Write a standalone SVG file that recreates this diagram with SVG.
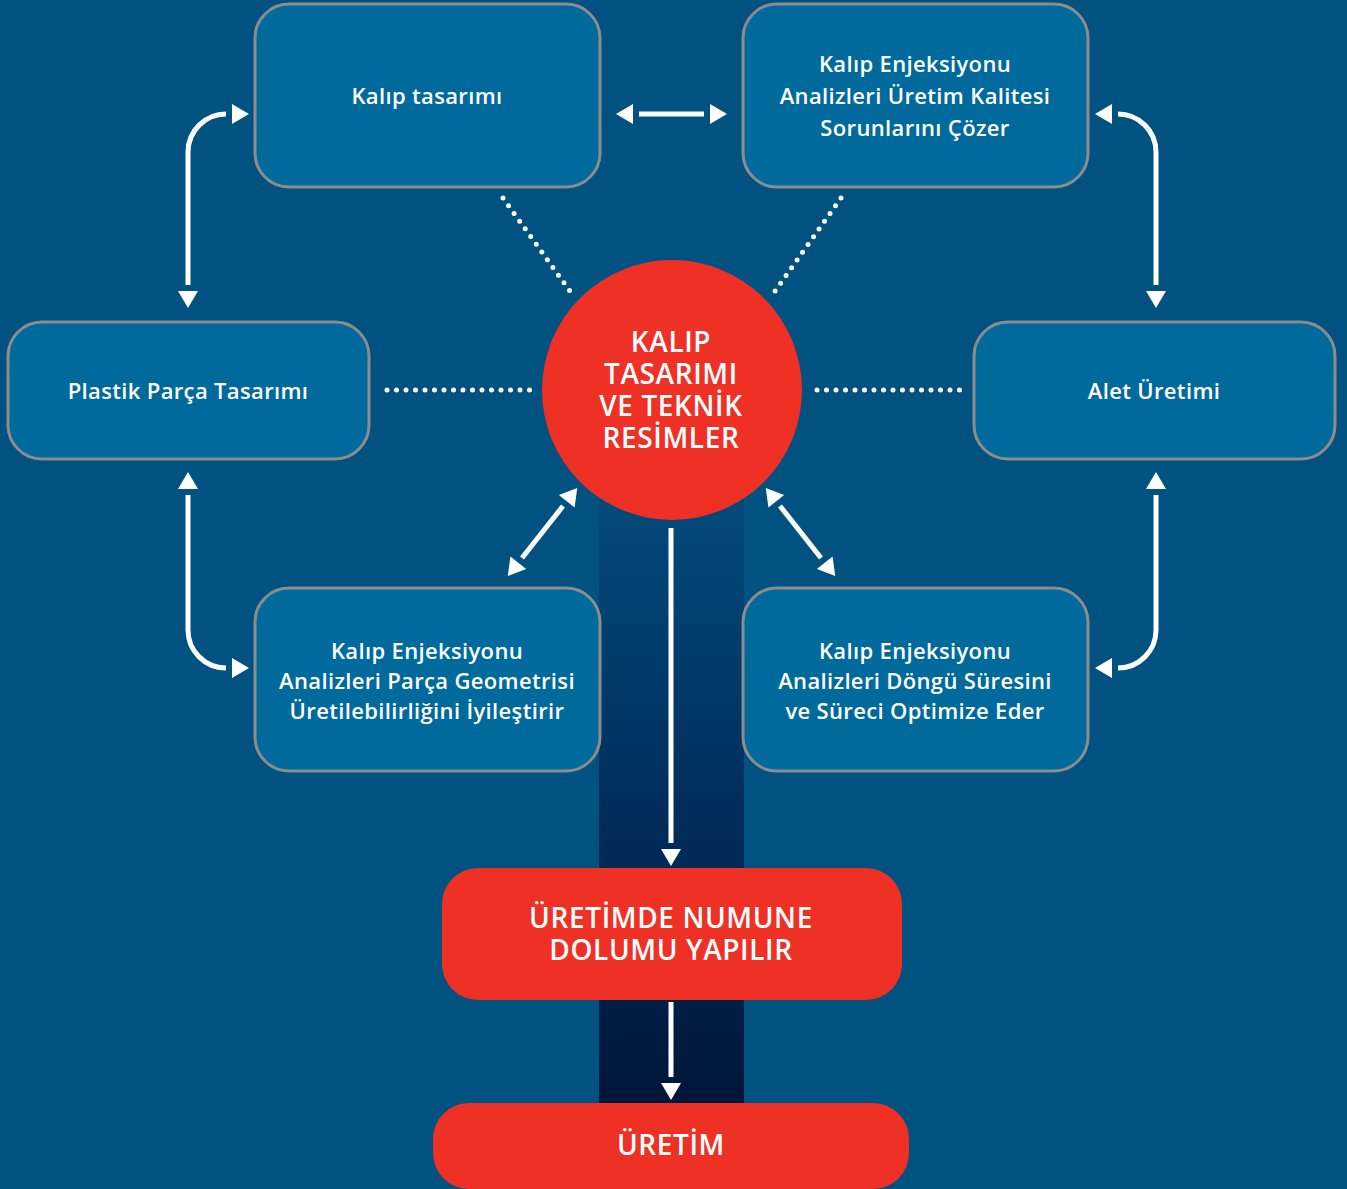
<svg xmlns="http://www.w3.org/2000/svg" width="1347" height="1189" viewBox="0 0 1347 1189">
<defs>
<linearGradient id="col" x1="0" y1="470" x2="0" y2="1103" gradientUnits="userSpaceOnUse">
<stop offset="0" stop-color="#024d7e"/>
<stop offset="0.6" stop-color="#002a57"/>
<stop offset="1" stop-color="#00163b"/>
</linearGradient>
<marker id="ah" viewBox="0 0 24 20" refX="0" refY="10" markerWidth="24" markerHeight="20" markerUnits="userSpaceOnUse" orient="auto-start-reverse">
<path d="M6,0 L23,10 L6,20 Z" fill="#ffffff"/>
</marker>
<style>
.box{fill:#006a9d;stroke:#8c8c8c;stroke-width:3}
.red{fill:#ee3124}
.t{font-family:"Open Sans","Liberation Sans",sans-serif;font-weight:600;font-size:22px;letter-spacing:0.35px;fill:#ffffff;text-anchor:middle}
.tr{font-family:"Open Sans","Liberation Sans",sans-serif;font-weight:600;font-size:28px;letter-spacing:0.6px;fill:#ffffff;text-anchor:middle}
.ln{fill:none;stroke:#ffffff;stroke-width:5}
.dot{fill:none;stroke:#ffffff;stroke-width:5;stroke-linecap:round;stroke-dasharray:0 9.5}
</style>
</defs>
<rect x="0" y="0" width="1347" height="1189" fill="#015280"/>
<rect x="599" y="460" width="145" height="645" fill="url(#col)"/>

<g id="connectors">
<line class="dot" x1="503" y1="198" x2="572" y2="294"/>
<line class="dot" x1="841" y1="198" x2="773" y2="294"/>
<line class="dot" x1="387" y1="390" x2="530" y2="390"/>
<line class="dot" x1="817" y1="390" x2="961" y2="390"/>
<line class="ln" x1="639" y1="114" x2="704" y2="114" marker-start="url(#ah)" marker-end="url(#ah)"/>
<path class="ln" d="M188,285 V152 A38,38 0 0 1 226,114" marker-start="url(#ah)" marker-end="url(#ah)"/>
<path class="ln" d="M188,495 V630 A38,38 0 0 0 226,668" marker-start="url(#ah)" marker-end="url(#ah)"/>
<path class="ln" d="M1156,285 V152 A38,38 0 0 0 1118,114" marker-start="url(#ah)" marker-end="url(#ah)"/>
<path class="ln" d="M1156,495 V630 A38,38 0 0 1 1118,668" marker-start="url(#ah)" marker-end="url(#ah)"/>
<line class="ln" x1="522" y1="558" x2="563" y2="506" marker-start="url(#ah)" marker-end="url(#ah)"/>
<line class="ln" x1="821" y1="558" x2="780" y2="506" marker-start="url(#ah)" marker-end="url(#ah)"/>
<line class="ln" x1="671" y1="528" x2="671" y2="843" marker-end="url(#ah)"/>
<line class="ln" x1="671" y1="1002" x2="671" y2="1077" marker-end="url(#ah)"/>
</g>

<g id="kalip-tasarimi">
<rect class="box" x="255" y="4" width="345" height="183" rx="34"/>
<text class="t" x="427" y="104">Kalıp tasarımı</text>
</g>
<g id="analiz-kalite">
<rect class="box" x="743" y="4" width="345" height="183" rx="34"/>
<text class="t" x="915" y="72">Kalıp Enjeksiyonu</text>
<text class="t" x="915" y="104">Analizleri Üretim Kalitesi</text>
<text class="t" x="915" y="136">Sorunlarını Çözer</text>
</g>
<g id="plastik-parca">
<rect class="box" x="8" y="322" width="361" height="137" rx="34"/>
<text class="t" x="188" y="399">Plastik Parça Tasarımı</text>
</g>
<g id="alet-uretimi">
<rect class="box" x="974" y="322" width="361" height="137" rx="34"/>
<text class="t" x="1154" y="399">Alet Üretimi</text>
</g>
<g id="analiz-geometri">
<rect class="box" x="255" y="588" width="345" height="183" rx="34"/>
<text class="t" x="427" y="659">Kalıp Enjeksiyonu</text>
<text class="t" x="427" y="689">Analizleri Parça Geometrisi</text>
<text class="t" x="427" y="719">Üretilebilirliğini İyileştirir</text>
</g>
<g id="analiz-dongu">
<rect class="box" x="743" y="588" width="345" height="183" rx="34"/>
<text class="t" x="915" y="659">Kalıp Enjeksiyonu</text>
<text class="t" x="915" y="689">Analizleri Döngü Süresini</text>
<text class="t" x="915" y="719">ve Süreci Optimize Eder</text>
</g>
<g id="merkez">
<circle class="red" cx="672" cy="390" r="130"/>
<text class="tr" x="671" y="352">KALIP</text>
<text class="tr" x="671" y="384">TASARIMI</text>
<text class="tr" x="671" y="416">VE TEKNİK</text>
<text class="tr" x="671" y="448">RESİMLER</text>
</g>
<g id="numune">
<rect class="red" x="442" y="868" width="460" height="132" rx="36"/>
<text class="tr" x="671" y="928">ÜRETİMDE NUMUNE</text>
<text class="tr" x="671" y="960">DOLUMU YAPILIR</text>
</g>
<g id="uretim">
<rect class="red" x="433" y="1103" width="476" height="86" rx="36"/>
<text class="tr" x="671" y="1155">ÜRETİM</text>
</g>
</svg>
